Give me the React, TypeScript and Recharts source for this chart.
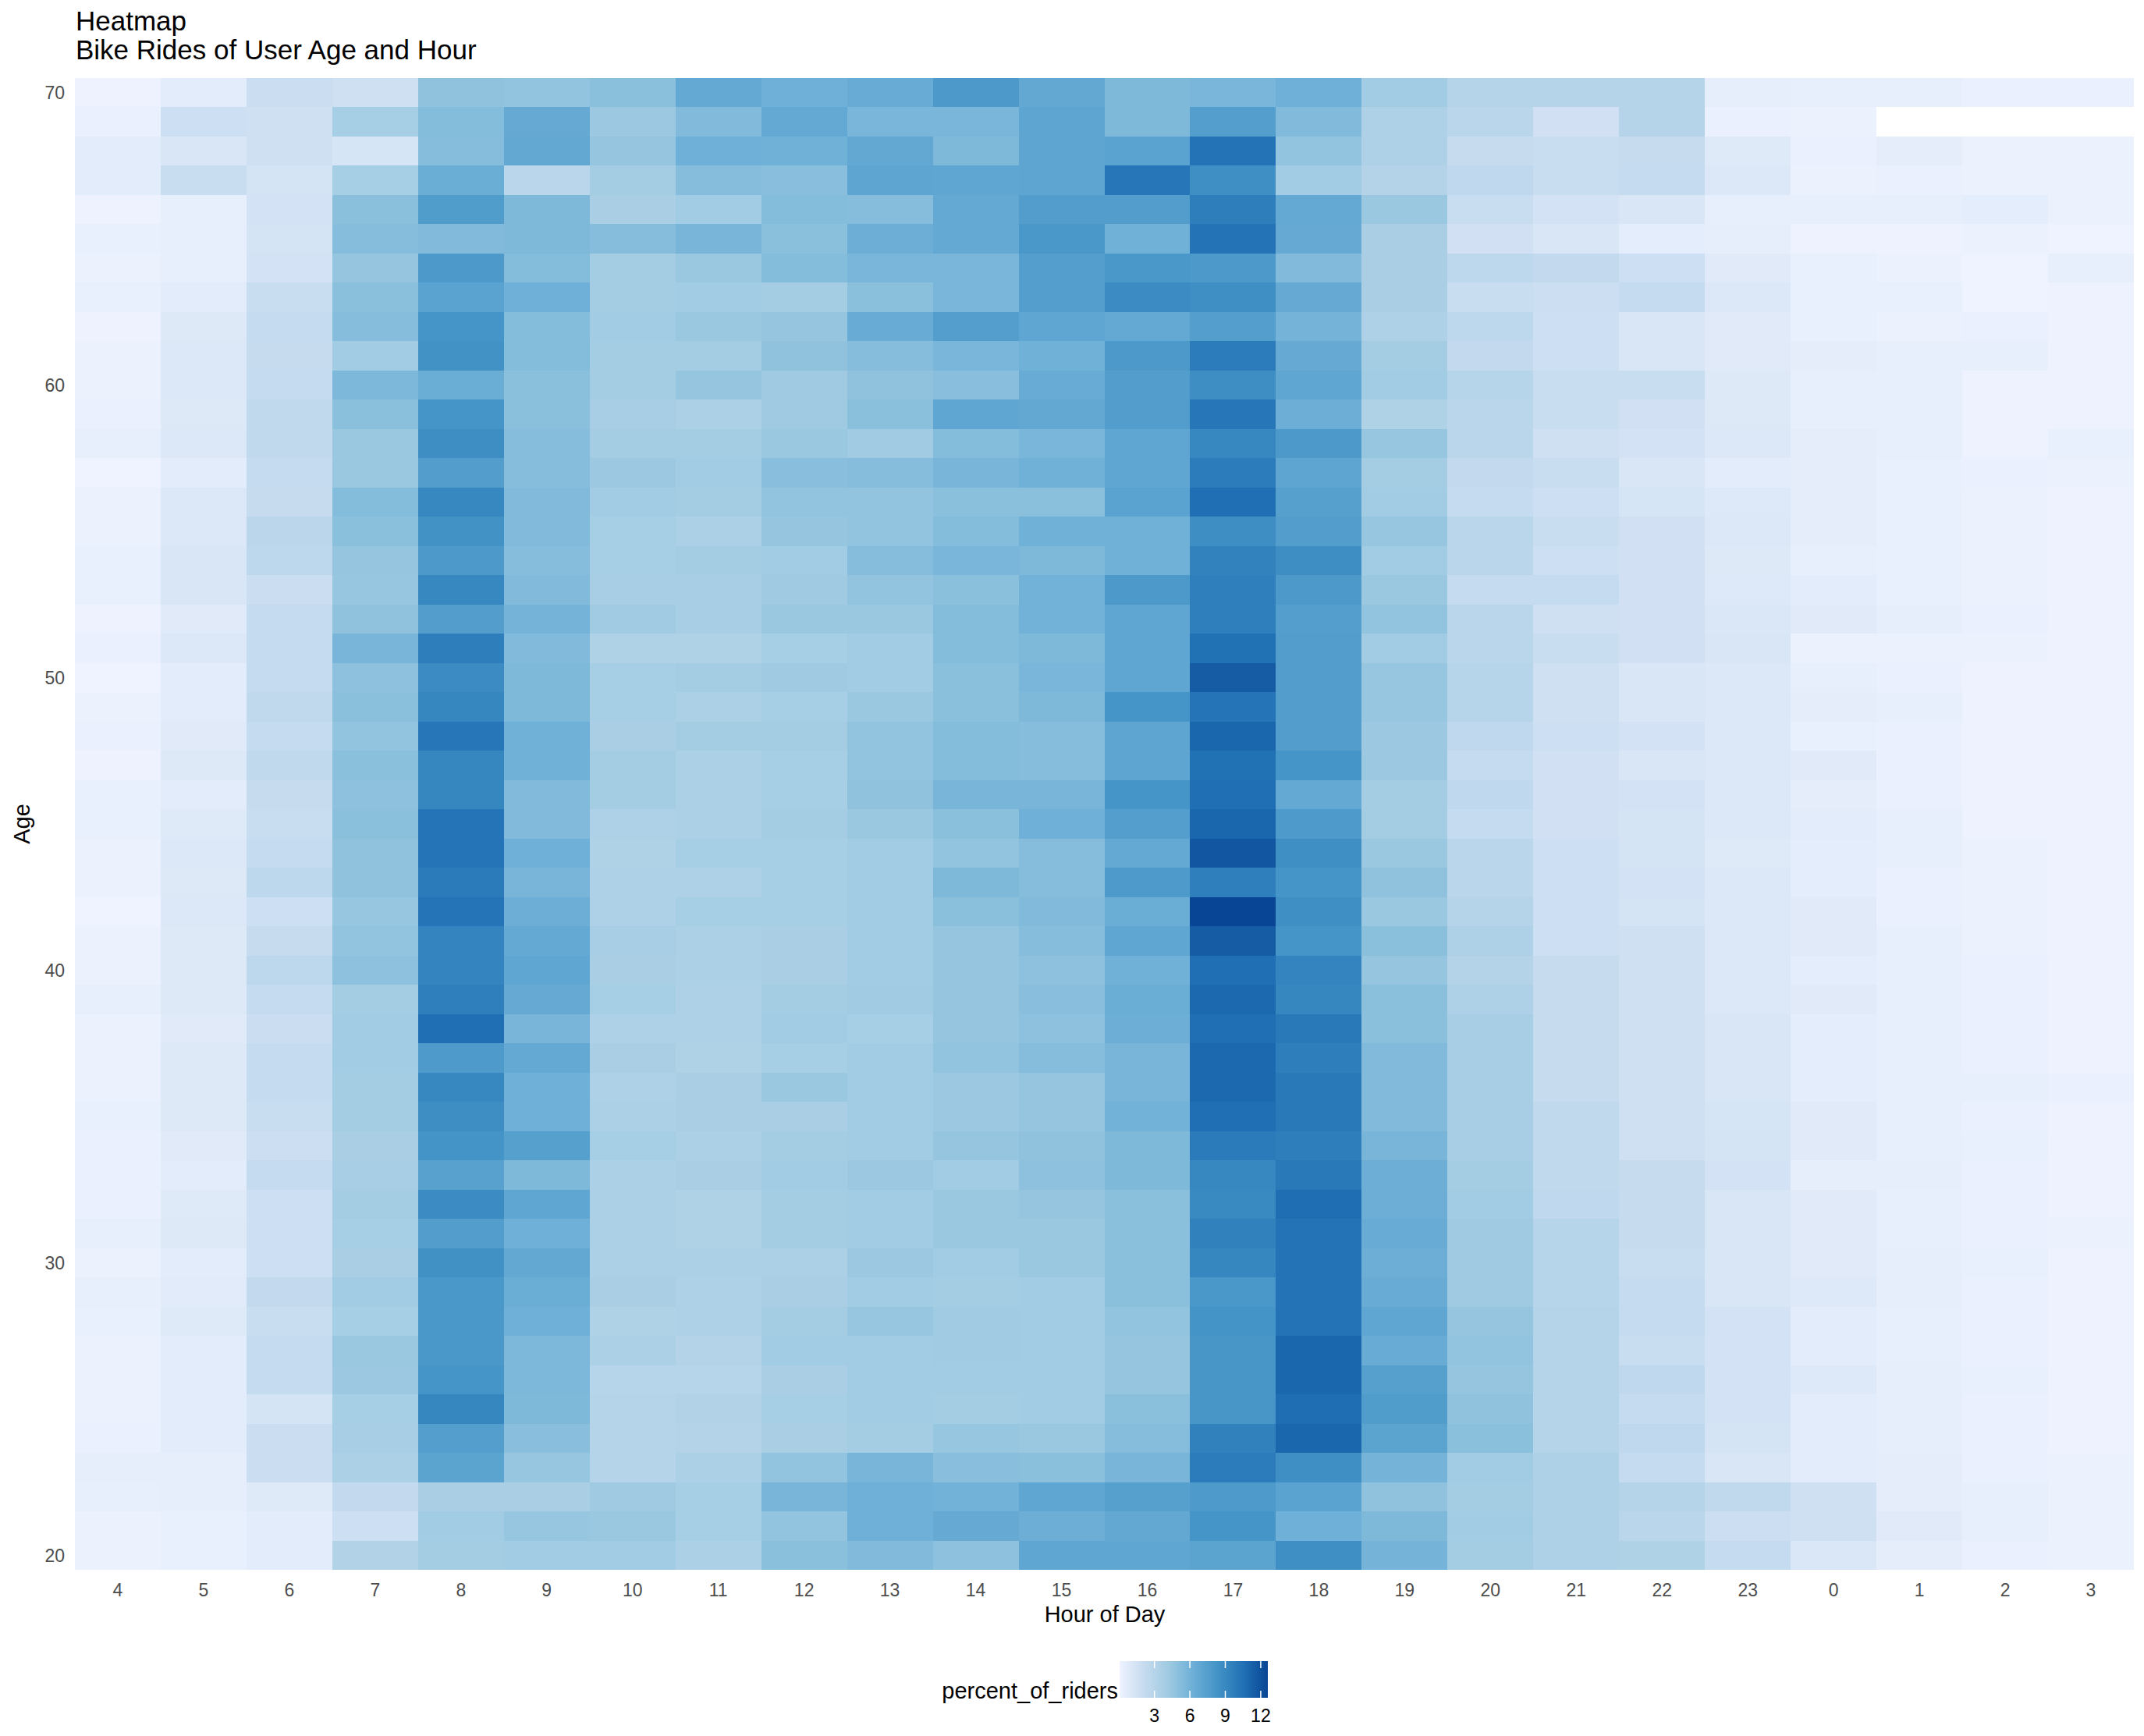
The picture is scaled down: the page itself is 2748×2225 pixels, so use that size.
import React from 'react';
import { BarChart, Bar, XAxis, YAxis, Cell } from 'recharts';

const FONT = '"Liberation Sans", Arial, Helvetica, sans-serif';

// hour order on the x axis (day starts at 4am)
const HOURS = [4, 5, 6, 7, 8, 9, 10, 11, 12, 13, 14, 15, 16, 17, 18, 19, 20, 21, 22, 23, 0, 1, 2, 3];

// ages top to bottom
const AGES = [
  70, 69, 68, 67, 66, 65, 64, 63, 62, 61,
  60, 59, 58, 57, 56, 55, 54, 53, 52, 51,
  50, 49, 48, 47, 46, 45, 44, 43, 42, 41,
  40, 39, 38, 37, 36, 35, 34, 33, 32, 31,
  30, 29, 28, 27, 26, 25, 24, 23, 22, 21,
  20,
];

const Y_TICKS = [20, 30, 40, 50, 60, 70];
const LEGEND_TICKS = [3, 6, 9, 12];

// percent_of_riders per hour, ages 70 -> 20 (null = no riders recorded)
const h4 = [0.15, 0.3, 0.7, 0.65, 0.15, 0.35, 0.25, 0.35, 0.15, 0.2,
  0.2, 0.3, 0.4, 0.05, 0.25, 0.25, 0.35, 0.35, 0.15, 0.3,
  0.05, 0.25, 0.3, 0.15, 0.35, 0.35, 0.2, 0.2, 0.05, 0.25,
  0.2, 0.45, 0.25, 0.25, 0.25, 0.35, 0.3, 0.3, 0.3, 0.45,
  0.2, 0.45, 0.35, 0.25, 0.25, 0.25, 0.3, 0.5, 0.45, 0.25,
  0.25];
const h5 = [0.7, 1.8, 1.2, 2.0, 0.4, 0.4, 0.4, 0.7, 0.9, 1.0,
  1.0, 0.9, 1.0, 0.7, 1.0, 1.0, 1.2, 1.2, 0.8, 1.0,
  0.7, 0.7, 0.8, 0.9, 0.7, 0.85, 1.0, 0.9, 1.0, 0.9,
  0.9, 0.9, 0.8, 0.9, 0.9, 0.9, 0.8, 0.7, 0.85, 0.9,
  0.7, 0.75, 0.85, 0.7, 0.7, 0.65, 0.65, 0.5, 0.5, 0.35,
  0.35];
const h6 = [1.9, 1.7, 1.7, 1.4, 1.5, 1.4, 1.5, 2.0, 2.2, 2.1,
  2.2, 2.4, 2.4, 2.2, 2.1, 2.7, 2.6, 1.9, 2.2, 2.2,
  2.2, 2.4, 2.2, 2.4, 2.1, 2.0, 2.2, 2.6, 1.8, 2.1,
  2.6, 2.2, 1.9, 2.2, 2.2, 2.0, 1.85, 2.2, 1.8, 1.8,
  1.8, 2.3, 2.0, 2.2, 2.2, 1.4, 1.9, 1.9, 0.85, 0.7,
  0.7];
const h7 = [1.7, 3.8, 1.3, 3.8, 5.0, 5.2, 4.6, 5.0, 5.2, 4.0,
  5.6, 5.0, 4.4, 4.4, 5.3, 5.0, 4.6, 4.5, 4.8, 5.8,
  4.9, 5.0, 4.7, 5.0, 4.9, 5.0, 4.8, 4.8, 4.5, 4.7,
  4.9, 3.9, 4.0, 4.0, 3.9, 3.9, 3.6, 3.7, 3.9, 3.8,
  3.6, 4.0, 3.8, 4.4, 4.3, 3.8, 3.7, 3.5, 2.3, 1.8,
  3.2];
const h8 = [4.8, 5.3, 5.2, 6.4, 7.7, 5.4, 7.9, 7.2, 8.2, 8.4,
  6.4, 8.2, 8.7, 7.6, 9.1, 8.4, 7.9, 9.1, 7.6, 9.7,
  8.8, 9.2, 10.2, 9.2, 9.2, 10.3, 10.3, 9.9, 10.3, 9.3,
  9.3, 9.6, 10.6, 7.8, 9.1, 8.7, 8.3, 7.3, 8.8, 7.6,
  8.5, 8.0, 8.0, 8.0, 8.2, 9.2, 7.5, 7.1, 3.6, 4.0,
  3.9];
const h9 = [4.7, 6.6, 6.8, 2.8, 5.5, 5.5, 5.3, 6.2, 5.3, 5.3,
  5.0, 5.0, 5.2, 5.2, 5.4, 5.4, 5.2, 5.4, 5.9, 5.4,
  5.5, 5.5, 6.1, 6.1, 5.4, 5.4, 6.2, 5.8, 6.3, 6.7,
  6.9, 6.6, 5.8, 6.7, 6.2, 6.2, 7.4, 5.5, 6.9, 6.2,
  6.8, 6.4, 6.2, 5.6, 5.6, 5.5, 5.1, 4.5, 3.6, 4.5,
  4.0];
const h10 = [5.0, 4.3, 4.6, 3.9, 3.6, 5.2, 3.9, 3.9, 4.0, 3.9,
  3.9, 3.7, 3.9, 4.3, 4.0, 3.8, 3.8, 3.7, 4.1, 3.3,
  3.8, 3.8, 3.6, 3.9, 3.9, 3.4, 3.3, 3.4, 3.4, 3.7,
  3.6, 3.8, 3.4, 3.6, 3.4, 3.5, 3.8, 3.5, 3.5, 3.5,
  3.5, 3.6, 3.3, 3.5, 2.9, 3.0, 3.0, 3.0, 4.2, 4.4,
  4.0];
const h11 = [6.7, 5.4, 6.2, 5.2, 4.0, 5.8, 4.4, 4.0, 4.4, 3.9,
  4.6, 3.5, 3.9, 4.0, 3.9, 3.5, 3.9, 3.7, 3.7, 3.3,
  3.9, 3.5, 3.9, 3.5, 3.5, 3.5, 3.8, 3.4, 3.8, 3.5,
  3.5, 3.4, 3.4, 3.3, 3.6, 3.6, 3.5, 3.6, 3.3, 3.3,
  3.5, 3.4, 3.4, 3.1, 2.9, 3.2, 3.1, 3.5, 3.8, 3.8,
  3.5];
const h12 = [6.2, 6.7, 6.1, 5.1, 5.3, 5.0, 5.3, 3.9, 4.6, 4.8,
  4.2, 4.2, 4.4, 5.1, 4.7, 4.6, 4.0, 4.2, 4.4, 3.8,
  4.2, 3.8, 3.9, 3.8, 3.8, 3.9, 3.8, 3.8, 3.8, 3.6,
  3.6, 3.9, 4.0, 3.8, 4.4, 3.6, 3.9, 4.0, 3.9, 3.9,
  3.5, 3.6, 3.9, 4.0, 3.6, 3.8, 3.6, 4.7, 5.8, 4.7,
  5.0];
const h13 = [6.5, 5.7, 6.8, 7.0, 5.2, 6.3, 5.7, 5.0, 6.5, 5.2,
  4.8, 5.0, 4.1, 5.2, 4.7, 4.7, 5.2, 4.7, 4.4, 4.0,
  4.0, 4.4, 4.7, 4.7, 4.8, 4.4, 4.0, 4.0, 4.0, 4.0,
  4.0, 4.1, 3.8, 4.0, 4.0, 4.0, 4.0, 4.3, 4.0, 4.0,
  4.3, 4.0, 4.5, 4.0, 4.0, 4.0, 3.9, 5.8, 6.2, 6.2,
  5.4];
const h14 = [7.9, 5.7, 5.5, 6.9, 6.7, 6.7, 5.7, 5.7, 7.5, 5.7,
  5.1, 6.9, 5.3, 5.8, 5.0, 5.3, 5.7, 5.0, 5.3, 5.3,
  5.0, 5.0, 5.3, 5.3, 5.8, 5.0, 4.7, 5.5, 5.0, 4.6,
  4.6, 4.6, 4.6, 4.7, 4.3, 4.3, 4.6, 4.0, 4.4, 4.4,
  4.0, 3.9, 4.1, 4.1, 4.0, 3.9, 4.5, 5.1, 6.0, 6.6,
  4.9];
const h15 = [6.8, 7.0, 7.0, 7.0, 7.6, 8.0, 7.5, 7.5, 6.9, 6.1,
  6.5, 6.8, 5.7, 6.1, 5.0, 6.1, 5.5, 6.0, 6.0, 5.5,
  5.7, 5.5, 5.2, 5.2, 5.8, 6.2, 5.2, 5.2, 5.4, 5.2,
  4.9, 5.1, 4.9, 5.2, 4.6, 4.6, 4.8, 4.9, 4.6, 4.4,
  4.4, 4.0, 4.0, 4.0, 4.0, 4.0, 4.4, 5.0, 6.9, 6.3,
  6.9];
const h16 = [5.5, 5.5, 7.2, 10.2, 7.6, 6.1, 8.0, 8.8, 6.7, 7.9,
  7.6, 7.6, 6.9, 6.9, 7.2, 6.1, 6.1, 7.9, 6.9, 6.9,
  6.9, 8.2, 7.0, 7.0, 8.2, 7.5, 6.7, 7.8, 6.4, 6.9,
  6.1, 6.4, 6.3, 5.8, 5.8, 6.0, 5.5, 5.5, 5.0, 5.0,
  5.0, 5.0, 4.7, 4.6, 4.6, 5.0, 5.2, 5.8, 7.4, 6.8,
  6.9];
const h17 = [5.7, 7.5, 10.4, 8.6, 9.7, 10.4, 7.9, 8.6, 7.5, 9.8,
  8.7, 10.1, 9.1, 9.8, 10.6, 8.7, 9.4, 9.6, 9.6, 10.5,
  11.5, 10.3, 11.0, 10.5, 10.6, 11.0, 11.8, 9.6, 12.6, 11.5,
  10.6, 10.9, 10.6, 10.9, 10.9, 10.6, 9.9, 9.1, 8.9, 9.5,
  9.2, 8.0, 8.3, 8.1, 8.1, 8.1, 9.5, 9.8, 7.8, 8.2,
  7.1];
const h18 = [6.2, 5.4, 4.7, 4.0, 6.7, 6.6, 5.4, 6.6, 5.9, 6.6,
  6.9, 6.3, 7.9, 7.0, 7.4, 7.6, 8.7, 7.9, 7.5, 7.6,
  7.6, 7.6, 7.6, 8.2, 6.7, 7.8, 8.6, 8.2, 8.6, 8.2,
  9.3, 9.2, 10.0, 9.7, 10.0, 10.0, 9.7, 10.0, 10.7, 10.4,
  10.4, 10.4, 10.4, 11.0, 11.0, 10.7, 11.0, 8.6, 7.2, 6.2,
  8.6];
const h19 = [4.0, 3.4, 3.4, 3.1, 4.4, 3.6, 3.6, 3.6, 3.4, 3.9,
  4.0, 3.3, 4.5, 3.9, 4.0, 4.5, 4.0, 4.4, 4.7, 4.0,
  4.5, 4.5, 4.3, 4.3, 3.9, 3.9, 4.4, 4.8, 4.4, 5.0,
  4.6, 5.0, 5.0, 5.4, 5.4, 5.4, 5.8, 6.3, 6.3, 6.5,
  6.3, 6.5, 6.9, 6.5, 7.4, 7.7, 7.1, 5.9, 4.8, 5.5,
  5.9];
const h20 = [3.0, 2.8, 2.1, 2.5, 2.0, 1.6, 2.6, 2.0, 2.6, 2.3,
  2.9, 2.8, 2.8, 2.3, 2.2, 2.8, 2.8, 2.2, 2.8, 2.8,
  2.9, 2.9, 2.5, 2.2, 2.5, 2.2, 2.8, 2.8, 3.0, 3.4,
  3.1, 3.4, 3.7, 3.7, 3.7, 3.7, 3.7, 3.9, 4.0, 4.2,
  4.2, 4.2, 4.6, 4.7, 4.6, 4.8, 5.0, 4.0, 3.9, 4.0,
  3.9];
const h21 = [3.0, 1.6, 2.0, 2.0, 1.5, 1.2, 2.3, 1.85, 1.8, 1.8,
  2.0, 2.0, 1.7, 2.0, 1.8, 2.0, 1.8, 2.2, 1.7, 2.0,
  1.7, 1.7, 1.8, 1.6, 1.6, 1.6, 1.8, 1.8, 1.8, 1.8,
  2.1, 2.1, 2.1, 2.1, 2.1, 2.4, 2.4, 2.4, 2.5, 2.9,
  2.9, 2.9, 3.0, 3.0, 3.0, 3.0, 3.0, 3.4, 3.4, 3.4,
  3.4];
const h22 = [3.0, 3.0, 2.1, 2.2, 1.2, 0.6, 1.8, 2.2, 1.2, 1.2,
  2.0, 1.6, 1.5, 1.2, 1.3, 1.6, 1.6, 1.6, 1.6, 1.6,
  1.2, 1.2, 1.5, 1.2, 1.5, 1.4, 1.4, 1.5, 1.4, 1.7,
  1.7, 1.7, 1.7, 1.7, 1.7, 1.7, 1.7, 2.1, 2.1, 2.1,
  2.0, 2.2, 2.2, 2.0, 2.5, 2.2, 2.5, 2.2, 3.0, 2.8,
  3.3];
const h23 = [0.5, 0.3, 0.85, 1.0, 0.4, 0.5, 0.8, 1.0, 0.8, 0.8,
  0.9, 0.9, 1.0, 0.7, 0.95, 1.0, 0.9, 0.95, 1.1, 1.2,
  1.0, 1.0, 1.0, 1.0, 1.0, 1.0, 0.85, 1.0, 1.0, 1.0,
  1.0, 1.0, 1.2, 1.2, 1.2, 1.3, 1.4, 1.5, 1.2, 1.2,
  1.2, 1.2, 1.5, 1.5, 1.5, 1.5, 1.4, 1.2, 2.4, 1.85,
  2.2];
const h0 = [0.4, 0.25, 0.3, 0.25, 0.4, 0.15, 0.35, 0.35, 0.35, 0.55,
  0.4, 0.45, 0.55, 0.55, 0.55, 0.55, 0.4, 0.65, 0.8, 0.25,
  0.45, 0.55, 0.35, 0.8, 0.55, 0.7, 0.6, 0.6, 0.8, 0.8,
  0.6, 0.8, 0.6, 0.6, 0.6, 0.8, 0.8, 0.5, 0.8, 0.8,
  0.8, 0.95, 0.7, 0.7, 0.95, 0.7, 0.7, 0.7, 1.7, 1.7,
  1.1];
const h1 = [0.45, null, 0.55, 0.3, 0.4, 0.1, 0.2, 0.35, 0.25, 0.4,
  0.4, 0.4, 0.4, 0.35, 0.35, 0.35, 0.35, 0.35, 0.5, 0.25,
  0.3, 0.4, 0.3, 0.3, 0.3, 0.45, 0.4, 0.3, 0.3, 0.4,
  0.4, 0.4, 0.4, 0.4, 0.4, 0.4, 0.4, 0.5, 0.4, 0.4,
  0.5, 0.5, 0.4, 0.4, 0.5, 0.5, 0.5, 0.55, 0.55, 0.8,
  0.55];
const h2 = [0.3, null, 0.25, 0.25, 0.6, 0.2, 0.05, 0.05, 0.3, 0.4,
  0.15, 0.15, 0.15, 0.3, 0.2, 0.2, 0.2, 0.2, 0.3, 0.25,
  0.15, 0.15, 0.1, 0.15, 0.15, 0.15, 0.2, 0.2, 0.25, 0.25,
  0.3, 0.3, 0.3, 0.3, 0.4, 0.3, 0.35, 0.3, 0.3, 0.3,
  0.35, 0.3, 0.3, 0.3, 0.35, 0.3, 0.3, 0.3, 0.45, 0.45,
  0.3];
const h3 = [0.3, null, 0.2, 0.2, 0.2, 0.05, 0.45, 0.15, 0.15, 0.15,
  0.15, 0.15, 0.35, 0.2, 0.1, 0.1, 0.1, 0.1, 0.1, 0.1,
  0.15, 0.15, 0.1, 0.1, 0.1, 0.1, 0.1, 0.1, 0.1, 0.1,
  0.15, 0.15, 0.15, 0.15, 0.3, 0.15, 0.15, 0.15, 0.15, 0.2,
  0.15, 0.15, 0.15, 0.15, 0.15, 0.15, 0.15, 0.2, 0.2, 0.2,
  0.2];

const COLUMNS: (number | null)[][] = [
  h4, h5, h6, h7, h8, h9, h10, h11, h12, h13, h14, h15,
  h16, h17, h18, h19, h20, h21, h22, h23, h0, h1, h2, h3,
];

// brewer Blues (7), light -> dark
const BLUES = ['#EFF3FF', '#C6DBEF', '#9ECAE1', '#6BAED6', '#4292C6', '#2171B5', '#084594'];

const allValues = COLUMNS.flat().filter((v): v is number => v != null);
const LIMIT_MIN = Math.min(...allValues);
const LIMIT_MAX = Math.max(...allValues);

function hexToRgb(hex: string) {
  const n = parseInt(hex.slice(1), 16);
  return [(n >> 16) & 255, (n >> 8) & 255, n & 255];
}

function fillFor(v: number | null) {
  if (v == null) return 'transparent';
  const t = Math.max(0, Math.min(1, (v - LIMIT_MIN) / (LIMIT_MAX - LIMIT_MIN)));
  const pos = t * (BLUES.length - 1);
  const i = Math.min(Math.floor(pos), BLUES.length - 2);
  const f = pos - i;
  const a = hexToRgb(BLUES[i]);
  const b = hexToRgb(BLUES[i + 1]);
  const c = a.map((ch, k) => Math.round(ch + (b[k] - ch) * f));
  return `rgb(${c[0]},${c[1]},${c[2]})`;
}

// one stacked segment (height 1) per age, on top of a 19.5 offset
const agesBottomUp = [...AGES].reverse();
const chartData = HOURS.map((hour) => {
  const row: Record<string, string | number> = { hour: String(hour), base: 19.5 };
  agesBottomUp.forEach((age) => {
    row[`a${age}`] = 1;
  });
  return row;
});

const XTick = (props: any) => {
  const { x, y, payload } = props;
  return (
    <text x={x} y={y + 34} textAnchor="middle" fontSize={23} fill="#4D4D4D" fontFamily={FONT}>
      {payload.value}
    </text>
  );
};

const YTick = (props: any) => {
  const { x, y, payload } = props;
  return (
    <text x={x} y={y} dy="0.36em" textAnchor="end" fontSize={23} fill="#4D4D4D" fontFamily={FONT}>
      {payload.value}
    </text>
  );
};

// colourbar geometry
const BAR_X = 1435;
const BAR_Y = 2129;
const BAR_W = 190;
const BAR_H = 47;
const legendX = (v: number) => BAR_X + ((v - LIMIT_MIN) / (LIMIT_MAX - LIMIT_MIN)) * BAR_W;

export default function App() {
  return (
    <div
      style={{
        position: 'absolute',
        left: 0,
        top: 0,
        width: 2748,
        height: 2225,
        background: '#fff',
        fontFamily: FONT,
      }}
    >
      <div style={{ position: 'absolute', left: 0, top: 0 }}>
        <BarChart
          width={2748}
          height={2225}
          data={chartData}
          margin={{ top: 100, right: 13, bottom: 173, left: 36 }}
          barCategoryGap={0}
          barGap={0}
        >
          <XAxis
            dataKey="hour"
            height={40}
            interval={0}
            tickLine={false}
            axisLine={false}
            tickSize={0}
            tickMargin={0}
            tick={<XTick />}
          />
          <YAxis
            type="number"
            domain={[19.5, 70.5]}
            ticks={Y_TICKS}
            allowDataOverflow
            width={60}
            tickLine={false}
            axisLine={false}
            tickSize={0}
            tickMargin={13}
            tick={<YTick />}
          />
          <Bar dataKey="base" stackId="tiles" fill="transparent" isAnimationActive={false} />
          {agesBottomUp.map((age) => {
            const r = AGES.indexOf(age);
            return (
              <Bar
                key={age}
                dataKey={`a${age}`}
                stackId="tiles"
                isAnimationActive={false}
                shapeRendering="crispEdges"
              >
                {HOURS.map((hour, i) => (
                  <Cell key={`c-${hour}-${age}`} fill={fillFor(COLUMNS[i][r])} shapeRendering="crispEdges" />
                ))}
              </Bar>
            );
          })}
        </BarChart>
      </div>

      <svg
        width={2748}
        height={2225}
        style={{ position: 'absolute', left: 0, top: 0, pointerEvents: 'none' }}
        fontFamily={FONT}
      >
        <defs>
          <linearGradient id="bluesBar" x1="0" y1="0" x2="1" y2="0">
            {BLUES.map((c, i) => (
              <stop key={c} offset={`${(i / (BLUES.length - 1)) * 100}%`} stopColor={c} />
            ))}
          </linearGradient>
        </defs>

        <text x={97} y={39} fontSize={35} fill="#000">Heatmap</text>
        <text x={97} y={76} fontSize={35} fill="#000">Bike Rides of User Age and Hour</text>

        <text x={1416} y={2079} fontSize={29} textAnchor="middle" fill="#000">Hour of Day</text>
        <text x={38} y={1056} fontSize={29} textAnchor="middle" fill="#000" transform="rotate(-90 38 1056)">
          Age
        </text>

        {/* colourbar legend */}
        <text x={1433} y={2177} fontSize={29} textAnchor="end" fill="#000">percent_of_riders</text>
        <rect x={BAR_X} y={BAR_Y} width={BAR_W} height={BAR_H} fill="url(#bluesBar)" />
        {LEGEND_TICKS.map((t) => (
          <g key={t}>
            <line x1={legendX(t)} x2={legendX(t)} y1={BAR_Y} y2={BAR_Y + 9} stroke="#fff" strokeWidth={1.5} />
            <line x1={legendX(t)} x2={legendX(t)} y1={BAR_Y + BAR_H - 9} y2={BAR_Y + BAR_H} stroke="#fff" strokeWidth={1.5} />
            <text x={legendX(t)} y={2207} fontSize={23} textAnchor="middle" fill="#000">
              {t}
            </text>
          </g>
        ))}
      </svg>
    </div>
  );
}
